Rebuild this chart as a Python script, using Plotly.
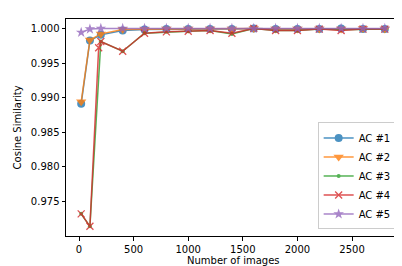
import plotly.graph_objects as go

x_main = [20, 100, 200, 400, 600, 800, 1000, 1200, 1400, 1600, 1800, 2000, 2200, 2400, 2600, 2800]
x_red = [20, 100, 180, 200, 400, 600, 800, 1000, 1200, 1400, 1600, 1800, 2000, 2200, 2400, 2600, 2800]

ac1 = [0.9891, 0.99825, 0.99907, 0.9997, 0.99985, 0.9999, 0.9999, 0.9999, 0.9999, 1.0000, 0.9999, 0.9999, 0.9999, 1.0000, 0.9999, 0.9999]
ac2 = [0.9894, 0.99834, 0.99921, 0.99985, 0.99988, 0.9999, 0.9999, 0.9999, 0.9999, 1.0000, 0.9999, 0.9999, 0.9999, 0.9999, 1.0000, 0.9999]
ac3 = [0.9732, 0.9714, 0.9981, 0.9967, 0.9993, 0.9995, 0.9996, 0.9997, 0.9992, 1.0000, 0.9997, 0.9997, 0.9999, 0.9998, 0.9999, 0.9999]
ac4 = [0.9732, 0.9714, 0.9972, 0.9981, 0.9967, 0.9993, 0.9995, 0.9996, 0.9997, 0.9993, 1.0000, 0.9997, 0.9997, 0.9999, 0.9997, 0.9999, 0.9999]
ac5 = [0.99942, 0.9999, 1.0000, 1.0000, 1.0000, 1.0000, 1.0000, 1.0000, 1.0000, 1.0000, 1.0000, 1.0000, 1.0000, 1.0000, 1.0000, 1.0000]

names = ["AC #1", "AC #2", "AC #3", "AC #4", "AC #5"]
colors = ["#1f77b4", "#ff7f0e", "#2ca02c", "#d62728", "#9467bd"]
symbols = ["circle", "triangle-down", "circle", "x-thin", "star"]
sizes = [8, 9, 4, 7, 8]

series = [(x_main, ac1), (x_main, ac2), (x_main, ac3), (x_red, ac4), (x_main, ac5)]

fig = go.Figure()
for (xs, ys), n, c, s, sz in zip(series, names, colors, symbols, sizes):
    marker = dict(symbol=s, size=sz, color=c)
    if s == "x-thin":
        marker["line"] = dict(color=c, width=1.3)
    else:
        marker["line"] = dict(width=0)
    fig.add_trace(go.Scatter(x=xs, y=ys, name=n, mode="lines+markers",
                             line=dict(color=c, width=1.5), marker=marker, opacity=0.8))

axis_common = dict(showgrid=False, zeroline=False, showline=True, linecolor="black",
                   linewidth=1, mirror=True, ticks="outside", ticklen=3.5, tickcolor="black",
                   tickfont=dict(size=10, color="black"), automargin=False)
fig.update_xaxes(range=[-119, 2939], tickvals=[0, 500, 1000, 1500, 2000, 2500], **axis_common)
fig.update_yaxes(range=[0.9700, 1.00136], tickvals=[0.975, 0.980, 0.985, 0.990, 0.995, 1.000],
                 tickformat=".3f", **axis_common)
fig.add_annotation(text="Number of images", xref="paper", yref="paper", x=0.5, y=-0.115,
                   xanchor="center", yanchor="middle", showarrow=False,
                   font=dict(size=10, color="black"))
fig.add_annotation(text="Cosine Similarity", xref="paper", yref="paper", x=-0.144, y=0.5,
                   xanchor="center", yanchor="middle", textangle=-90, showarrow=False,
                   font=dict(size=10, color="black"))
fig.update_layout(width=402, height=266, margin=dict(l=58, r=10, t=11, b=38),
                  plot_bgcolor="white", paper_bgcolor="white",
                  font=dict(family="DejaVu Sans", size=10, color="black"),
                  legend=dict(x=0.99, y=0.03, xanchor="right", yanchor="bottom",
                              bgcolor="rgba(255,255,255,0.8)", bordercolor="#cccccc", borderwidth=1,
                              itemwidth=30, tracegroupgap=0, font=dict(size=10)))
fig.write_html("out.html")
